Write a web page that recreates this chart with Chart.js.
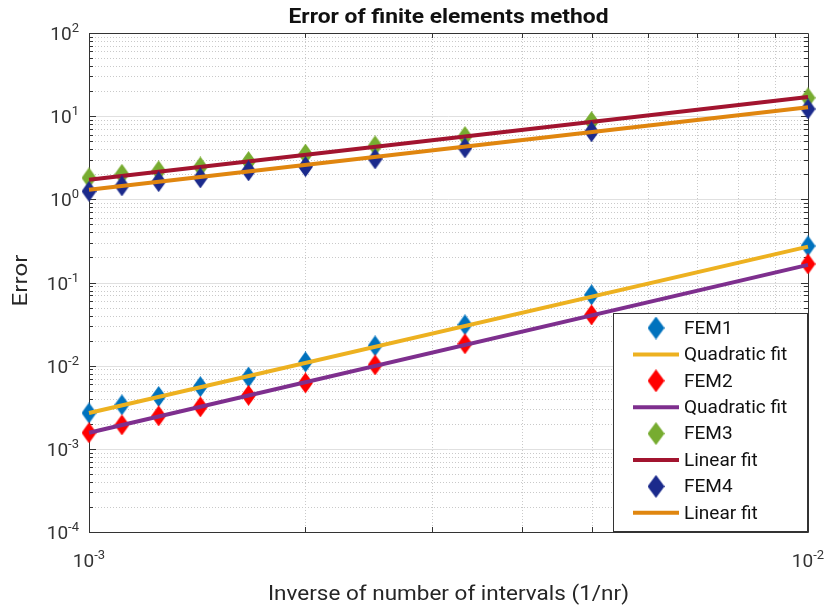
<!DOCTYPE html>
<html lang="en">
<head>
<meta charset="UTF-8">
<title>Error of finite elements method</title>
<script src="https://cdn.jsdelivr.net/npm/chart.js@4.4.1/dist/chart.umd.min.js"></script>
<style>
    html, body { margin: 0; padding: 0; background: #ffffff; }
</style>
</head>
<body>
<canvas id="errorChart" width="830" height="608"></canvas>
<script>
    // Numero de intervalos de cada corrida (el eje x es 1/nr)
    const intervalos = [1000, 900, 800, 700, 600, 500, 400, 300, 200, 100];

    // Error medido de cada metodo
    const errorFEM1 = [2.7e-3, 3.38e-3, 4.26e-3, 5.6e-3, 7.3e-3, 0.0111, 0.0173, 0.031, 0.071, 0.275];
    const errorFEM2 = [1.56e-3, 1.94e-3, 2.49e-3, 3.2e-3, 4.4e-3, 6.2e-3, 0.0102, 0.0183, 0.0408, 0.167];
    const errorFEM3 = [1.81, 2.0, 2.2, 2.45, 2.85, 3.5, 4.4, 5.7, 8.6, 16.6];
    const errorFEM4 = [1.25, 1.45, 1.63, 1.81, 2.2, 2.47, 3.06, 4.15, 6.5, 12.2];

    // Ajustes (rectas en log-log), valores en los extremos
    const extremosAjuste = [1e-3, 1e-2];
    const ajusteCuad1 = [2.7e-3, 0.27];
    const ajusteCuad2 = [1.56e-3, 0.163];
    const ajusteLineal3 = [1.72, 17.0];
    const ajusteLineal4 = [1.30, 12.8];

    const etiquetas = ['FEM1', 'Quadratic fit', 'FEM2', 'Quadratic fit', 'FEM3', 'Linear fit', 'FEM4', 'Linear fit'];
    const colores = ['#0072BD', '#EDB120', '#FF0000', '#7E2F8E', '#77AC30', '#A2142F', '#1B2A8C', '#E0860F'];

    // Marcas de los ejes (exponentes de 10) y multiplos menores
    const decadasX = [-3, -2];
    const decadasY = [-4, -3, -2, -1, 0, 1, 2];
    const menores = [2, 3, 4, 5, 6, 7, 8, 9];

    const FUENTE = 'Roboto, "Liberation Sans", sans-serif';

    function crearDiamante(color, ancho, alto) {
        const c = document.createElement('canvas');
        c.width = ancho;
        c.height = alto;
        const g = c.getContext('2d');
        g.fillStyle = color;
        g.beginPath();
        g.moveTo(ancho / 2, 0);
        g.lineTo(ancho, alto / 2);
        g.lineTo(ancho / 2, alto);
        g.lineTo(0, alto / 2);
        g.closePath();
        g.fill();
        return c;
    }

    function serie(indice, valores) {
        const color = colores[indice];
        return {
            label: etiquetas[indice],
            data: intervalos.map((nr, i) => ({ x: 1 / nr, y: valores[i] })),
            showLine: false,
            pointStyle: crearDiamante(color, 15, 21),
            pointRadius: 10,
            pointHoverRadius: 10,
            backgroundColor: color,
            borderColor: color,
            order: 8 - indice,
            clip: false
        };
    }

    function ajuste(indice, valores) {
        const color = colores[indice];
        return {
            label: etiquetas[indice],
            data: extremosAjuste.map((x, i) => ({ x: x, y: valores[i] })),
            showLine: true,
            borderColor: color,
            backgroundColor: color,
            borderWidth: 4,
            pointRadius: 0,
            order: 8 - indice,
            clip: false
        };
    }

    // "10" con el exponente en superindice
    function potencia(ctx, exp, x, base, alinear) {
        ctx.font = `19px ${FUENTE}`;
        const anchoBase = ctx.measureText('10').width;
        ctx.font = `13px ${FUENTE}`;
        const anchoExp = ctx.measureText(String(exp)).width;
        const total = anchoBase + anchoExp;
        const x0 = alinear === 'right' ? x - total : x - total / 2;
        ctx.textAlign = 'left';
        ctx.textBaseline = 'alphabetic';
        ctx.font = `19px ${FUENTE}`;
        ctx.fillText('10', x0, base);
        ctx.font = `13px ${FUENTE}`;
        ctx.fillText(String(exp), x0 + anchoBase, base - 8);
    }

    // Texto centrado y estirado hasta un ancho dado
    function textoAncho(ctx, texto, x, y, ancho, angulo) {
        const w = ctx.measureText(texto).width;
        ctx.save();
        ctx.translate(x, y);
        if (angulo) ctx.rotate(angulo);
        ctx.scale(ancho / w, 1);
        ctx.textAlign = 'center';
        ctx.fillText(texto, 0, 0);
        ctx.restore();
    }

    const rejilla = {
        id: 'rejilla',
        beforeDatasetsDraw(chart) {
            const { ctx, chartArea: a, scales: { x, y } } = chart;
            ctx.save();
            ctx.lineWidth = 1;

            // Rejilla menor punteada
            ctx.strokeStyle = '#c9c9c9';
            ctx.setLineDash([1, 2]);
            ctx.beginPath();
            decadasY.slice(0, -1).forEach(d => {
                menores.forEach(m => {
                    const py = Math.round(y.getPixelForValue(m * Math.pow(10, d))) + 0.5;
                    ctx.moveTo(a.left, py);
                    ctx.lineTo(a.right, py);
                });
            });
            decadasX.slice(0, -1).forEach(d => {
                menores.forEach(m => {
                    const px = Math.round(x.getPixelForValue(m * Math.pow(10, d))) + 0.5;
                    ctx.moveTo(px, a.top);
                    ctx.lineTo(px, a.bottom);
                });
            });
            ctx.stroke();

            // Rejilla mayor
            ctx.setLineDash([]);
            ctx.strokeStyle = '#e0e0e0';
            ctx.beginPath();
            decadasY.forEach(d => {
                const py = Math.round(y.getPixelForValue(Math.pow(10, d))) + 0.5;
                ctx.moveTo(a.left, py);
                ctx.lineTo(a.right, py);
            });
            ctx.stroke();

            // Caja de los ejes y marcas hacia dentro
            ctx.strokeStyle = '#333333';
            ctx.beginPath();
            ctx.rect(Math.round(a.left) + 0.5, Math.round(a.top) + 0.5,
                Math.round(a.right - a.left), Math.round(a.bottom - a.top));
            decadasY.forEach((d, k) => {
                const valores = [Math.pow(10, d)];
                if (k < decadasY.length - 1) menores.forEach(m => valores.push(m * Math.pow(10, d)));
                valores.forEach((v, j) => {
                    const largo = j === 0 ? 7 : 4;
                    const py = Math.round(y.getPixelForValue(v)) + 0.5;
                    ctx.moveTo(a.left, py);
                    ctx.lineTo(a.left + largo, py);
                    ctx.moveTo(a.right, py);
                    ctx.lineTo(a.right - largo, py);
                });
            });
            decadasX.slice(0, -1).forEach(d => {
                menores.forEach(m => {
                    const px = Math.round(x.getPixelForValue(m * Math.pow(10, d))) + 0.5;
                    ctx.moveTo(px, a.bottom);
                    ctx.lineTo(px, a.bottom - 5);
                    ctx.moveTo(px, a.top);
                    ctx.lineTo(px, a.top + 5);
                });
            });
            ctx.stroke();

            // Etiquetas de los ejes
            ctx.fillStyle = '#333333';
            decadasY.forEach(d => {
                const py = y.getPixelForValue(Math.pow(10, d));
                potencia(ctx, d, a.left - 10, py + 7, 'right');
            });
            decadasX.forEach(d => {
                const px = x.getPixelForValue(Math.pow(10, d));
                potencia(ctx, d, px, a.bottom + 35, 'center');
            });

            // Titulos
            const centroX = (a.left + a.right) / 2;
            ctx.fillStyle = '#262626';
            ctx.textBaseline = 'alphabetic';
            ctx.font = `21px ${FUENTE}`;
            textoAncho(ctx, 'Inverse of number of intervals (1/nr)', centroX, 600, 361);
            ctx.font = `20px ${FUENTE}`;
            ctx.textBaseline = 'middle';
            textoAncho(ctx, 'Error', 22, (a.top + a.bottom) / 2 - 2, 52, -Math.PI / 2);

            ctx.fillStyle = '#111111';
            ctx.textBaseline = 'alphabetic';
            ctx.font = `bold 21px ${FUENTE}`;
            textoAncho(ctx, 'Error of finite elements method', centroX, 23, 320);
            ctx.restore();
        }
    };

    // Leyenda dentro de los ejes, esquina inferior derecha
    const leyenda = {
        id: 'leyenda',
        afterDatasetsDraw(chart) {
            const { ctx, chartArea: a } = chart;
            const x1 = Math.round(a.right) - 1;
            const y1 = Math.round(a.bottom) - 1;
            const x0 = x1 - 194;
            const y0 = y1 - 218;
            ctx.save();
            ctx.fillStyle = '#ffffff';
            ctx.fillRect(x0, y0, x1 - x0, y1 - y0);
            ctx.strokeStyle = '#333333';
            ctx.lineWidth = 1;
            ctx.strokeRect(x0 + 0.5, y0 + 0.5, x1 - x0, y1 - y0);

            chart.data.datasets.forEach((ds, i) => {
                const cy = y0 + 15 + i * 26.4;
                if (ds.showLine) {
                    ctx.strokeStyle = ds.borderColor;
                    ctx.lineWidth = 4;
                    ctx.beginPath();
                    ctx.moveTo(x0 + 20, cy);
                    ctx.lineTo(x0 + 66, cy);
                    ctx.stroke();
                } else {
                    const d = crearDiamante(ds.backgroundColor, 17, 23);
                    ctx.drawImage(d, x0 + 43 - 8.5, cy - 11.5);
                }
                ctx.fillStyle = '#111111';
                ctx.font = `19px ${FUENTE}`;
                ctx.textAlign = 'left';
                ctx.textBaseline = 'middle';
                ctx.fillText(ds.label, x0 + 71, cy + 1);
            });
            ctx.restore();
        }
    };

    document.addEventListener('DOMContentLoaded', function() {
        const ctx = document.getElementById('errorChart').getContext('2d');

        new Chart(ctx, {
            type: 'scatter',
            data: {
                datasets: [
                    serie(0, errorFEM1),
                    ajuste(1, ajusteCuad1),
                    serie(2, errorFEM2),
                    ajuste(3, ajusteCuad2),
                    serie(4, errorFEM3),
                    ajuste(5, ajusteLineal3),
                    serie(6, errorFEM4),
                    ajuste(7, ajusteLineal4)
                ]
            },
            options: {
                responsive: false,
                animation: false,
                events: [],
                layout: { padding: { left: 89, top: 33, right: 22, bottom: 76 } },
                scales: {
                    x: { type: 'logarithmic', min: 1e-3, max: 1e-2, display: false },
                    y: { type: 'logarithmic', min: 1e-4, max: 1e2, display: false }
                },
                plugins: {
                    legend: { display: false },
                    tooltip: { enabled: false },
                    title: { display: false }
                }
            },
            plugins: [rejilla, leyenda]
        });
    });
</script>
</body>
</html>
